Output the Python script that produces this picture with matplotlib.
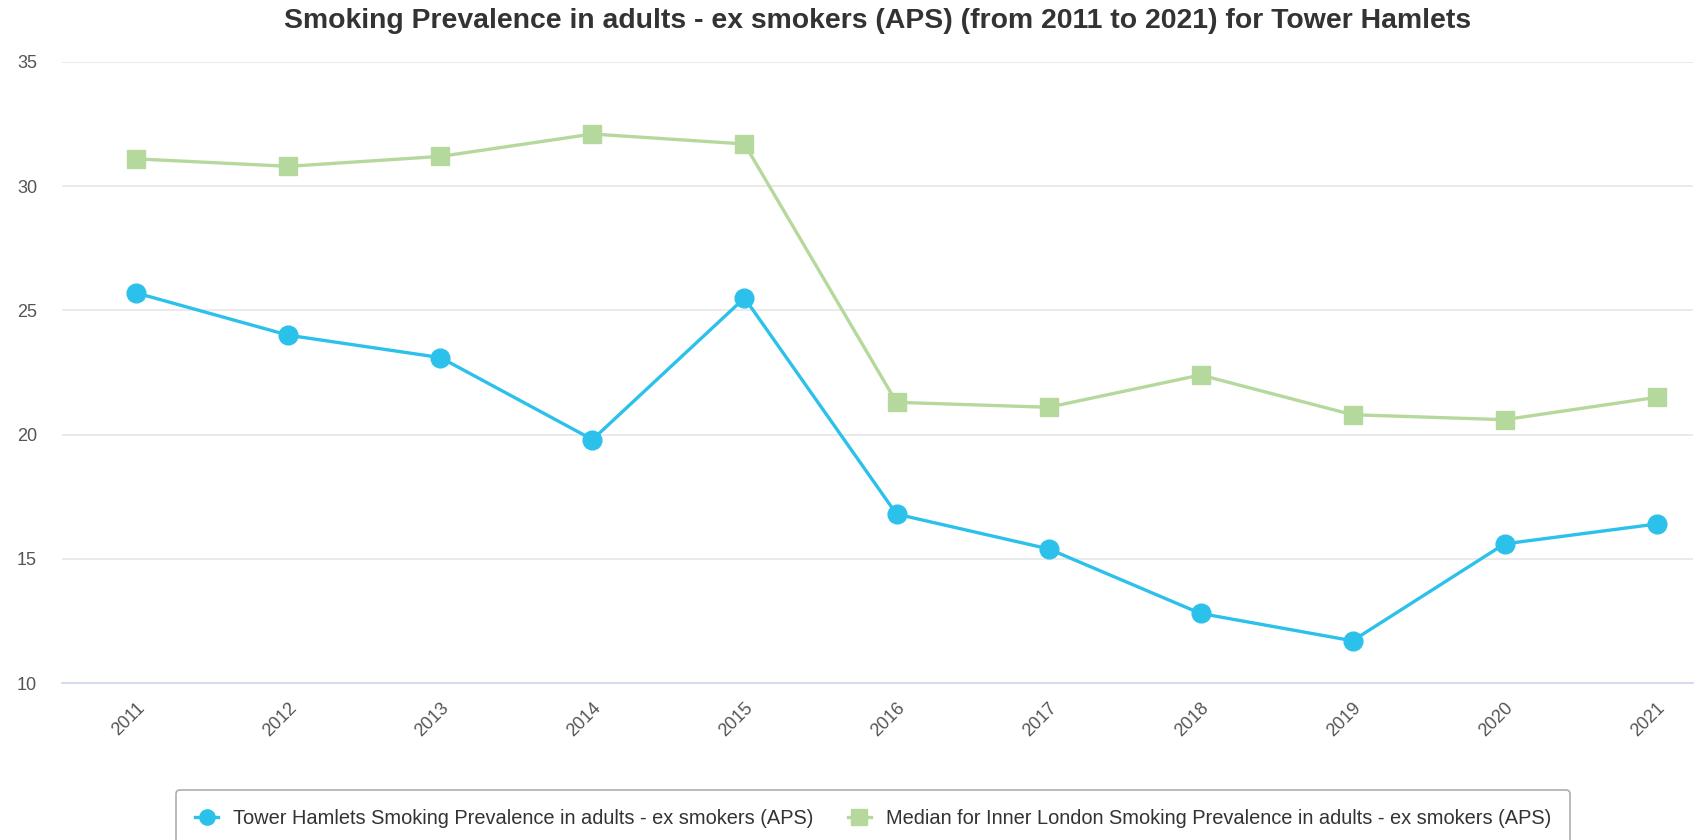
import matplotlib
matplotlib.use("Agg")
import matplotlib.pyplot as plt
from matplotlib.lines import Line2D

years = ["2011", "2012", "2013", "2014", "2015", "2016", "2017", "2018", "2019", "2020", "2021"]
tower_hamlets = [25.7, 24.0, 23.1, 19.8, 25.5, 16.8, 15.4, 12.8, 11.7, 15.6, 16.4]
inner_london = [31.1, 30.8, 31.2, 32.1, 31.7, 21.3, 21.1, 22.4, 20.8, 20.6, 21.5]
y_ticks = [10, 15, 20, 25, 30, 35]

title = "Smoking Prevalence in adults - ex smokers (APS) (from 2011 to 2021) for Tower Hamlets"
label_th = "Tower Hamlets Smoking Prevalence in adults - ex smokers (APS)"
label_il = "Median for Inner London Smoking Prevalence in adults - ex smokers (APS)"

blue = "#2cc1ea"
green = "#b5d99c"

plt.rcParams['font.family'] = ['Liberation Sans', 'DejaVu Sans']

W, H = 1698, 840
fig = plt.figure(figsize=(W / 100, H / 100), dpi=100)
left_px, right_px, top_px, bottom_px = 62, 1693, 62, 683
ax = fig.add_axes([left_px / W, 1 - bottom_px / H, (right_px - left_px) / W, (bottom_px - top_px) / H])

x = list(range(len(years)))
ax.plot(x, inner_london, color=green, lw=2.4, marker='s', markersize=13.5, zorder=3, label=label_il)
ax.plot(x, tower_hamlets, color=blue, lw=2.4, marker='o', markersize=13.5, zorder=4, label=label_th)

ax.set_xlim(-0.49, 10.24)
ax.set_ylim(10, 35)
ax.set_yticks(y_ticks)
ax.set_yticklabels([str(v) for v in y_ticks])
ax.set_xticks(x)
ax.set_xticklabels(years, rotation=45, ha='right', va='top', rotation_mode='anchor')

for s in ['top', 'right', 'left']:
    ax.spines[s].set_visible(False)
ax.spines['bottom'].set_color('#ccd6eb')
ax.spines['bottom'].set_linewidth(1.2)
ax.spines['bottom'].set_zorder(1)
ax.grid(axis='y', color='#e6e6e6', lw=1.2, zorder=0)
ax.set_axisbelow(True)
ax.tick_params(axis='both', length=0, labelsize=13, colors='#555555')
ax.tick_params(axis='y', pad=18)
ax.tick_params(axis='x', pad=12)

fig.text((left_px + right_px) / 2 / W, 1 - 21 / H, title, ha='center', va='center',
         fontsize=20.4, fontweight='bold', color='#333333')

handles = [
    Line2D([0], [0], color=blue, lw=2.4, marker='o', markersize=11),
    Line2D([0], [0], color=green, lw=2.4, marker='s', markersize=11),
]
leg = fig.legend(handles, [label_th, label_il], loc='upper center',
                 bbox_to_anchor=(873 / W, 1 - 790 / H), ncol=2, frameon=True,
                 fontsize=14.4, handlelength=1.15, handletextpad=0.75, columnspacing=1.7,
                 borderpad=0.95, borderaxespad=0, fancybox=True)
leg.get_frame().set_edgecolor('#999999')
leg.get_frame().set_linewidth(1.2)
for t in leg.get_texts():
    t.set_color('#333333')

fig.savefig("out.png", dpi=100, facecolor='white')
